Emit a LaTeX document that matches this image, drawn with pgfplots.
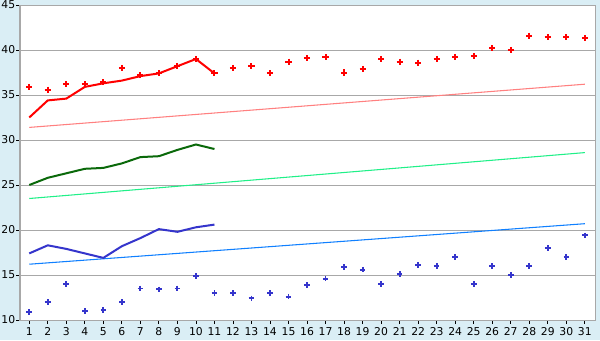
\documentclass[border=0pt]{standalone}
\usepackage{pgfplots}
\pgfplotsset{compat=1.18}
\usepackage{fontspec}
\setmainfont{DejaVu Sans}
\definecolor{bgc}{HTML}{DAEEF5}
\definecolor{gridc}{HTML}{A8A8A8}
\definecolor{redl}{HTML}{FF0000}
\definecolor{pinkt}{HTML}{FF8080}
\definecolor{dgreen}{HTML}{0A690A}
\definecolor{lgreen}{HTML}{20F088}
\definecolor{bluel}{HTML}{3535CC}
\definecolor{bluet}{HTML}{1080FF}
\begin{document}
\begin{tikzpicture}[x=1pt,y=1pt]
\fill[bgc] (0,0) rectangle (450,255);
\begin{axis}[
  at={(15pt,15pt)}, anchor=south west,
  scale only axis, width=431.25pt, height=236.25pt,
  xmin=0.5, xmax=31.55, ymin=10, ymax=45,
  axis background/.style={fill=white},
  axis line style={gridc, line width=0.75pt},
  xtick={1,...,31}, ytick={10,15,...,45},
  ymajorgrids, grid style={gridc, line width=0.75pt},
  tick style={black, line width=0.6pt},
  xtick align=outside, ytick align=outside,
  major tick length=3pt,
  xtick pos=bottom, ytick pos=left,
  tick label style={font=\fontsize{8.1}{9}\selectfont},
  /pgf/number format/assume math mode=true,
  xticklabel style={yshift=1pt},
  yticklabel style={inner xsep=0pt, xshift=-0.4pt},
  clip=false,
]
% trend lines
\addplot[pinkt, line width=0.8pt] coordinates {(1,31.4) (31,36.2)};
\addplot[lgreen, line width=0.8pt] coordinates {(1,23.5) (31,28.6)};
\addplot[bluet, line width=0.8pt] coordinates {(1,16.2) (31,20.7)};
% lines
\addplot[redl, line width=1.5pt] coordinates {
(1,32.5) (2,34.4) (3,34.6) (4,35.9) (5,36.3) (6,36.6) (7,37.1) (8,37.4) (9,38.2) (10,39.0) (11,37.4)};
\addplot[dgreen, line width=1.5pt] coordinates {
(1,25.0) (2,25.8) (3,26.3) (4,26.8) (5,26.9) (6,27.4) (7,28.1) (8,28.2) (9,28.9) (10,29.5) (11,29.0)};
\addplot[bluel, line width=1.5pt] coordinates {
(1,17.4) (2,18.3) (3,17.9) (4,17.4) (5,16.9) (6,18.2) (7,19.1) (8,20.1) (9,19.8) (10,20.3) (11,20.6)};
% scatter
\addplot[only marks, mark=+, mark size=2.3pt, redl, line width=1.5pt] coordinates {
(1,35.9) (2,35.6) (3,36.2) (4,36.2) (5,36.4) (6,38.0) (7,37.2) (8,37.4) (9,38.2) (10,39.0)
(11,37.4) (12,38.0) (13,38.2) (14,37.4) (15,38.7) (16,39.1) (17,39.2) (18,37.5) (19,37.9) (20,39.0)
(21,38.7) (22,38.6) (23,39.0) (24,39.2) (25,39.3) (26,40.2) (27,40.0) (28,41.6) (29,41.4) (30,41.4) (31,41.3)};
\addplot[only marks, mark=+, mark size=2.1pt, bluel, line width=1.4pt] coordinates {
(1,10.9) (2,12.0) (3,14.0) (4,11.0) (5,11.1) (6,12.0) (7,13.5) (8,13.4) (9,13.5) (10,14.9)
(11,13.0) (12,13.0) (13,12.4) (14,13.0) (15,12.6) (16,13.9) (17,14.6) (18,15.9) (19,15.6) (20,14.0)
(21,15.1) (22,16.1) (23,16.0) (24,17.0) (25,14.0) (26,16.0) (27,15.0) (28,16.0) (29,18.0) (30,17.0) (31,19.4)};
\end{axis}
\pgfresetboundingbox
\path[use as bounding box] (0,0) rectangle (450,255);
\end{tikzpicture}
\end{document}
